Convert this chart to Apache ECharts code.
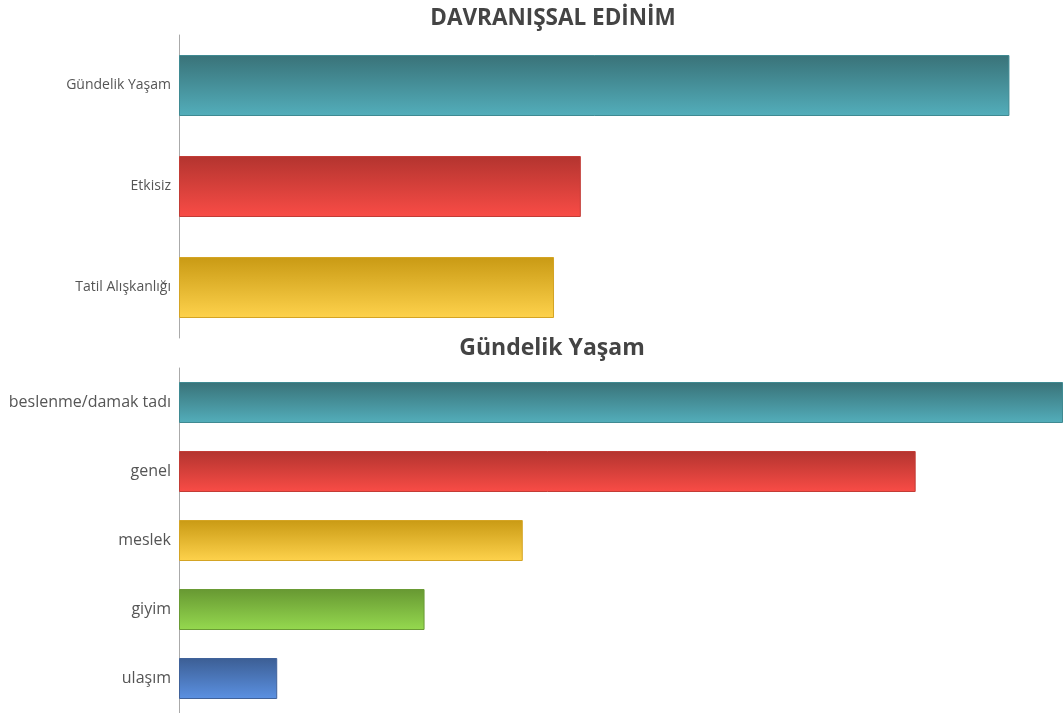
<!DOCTYPE html>
<html><head><meta charset="utf-8">
<script src="https://cdn.jsdelivr.net/npm/echarts@6/dist/echarts.min.js"></script>
<style>html,body{margin:0;padding:0;background:#fff}#c{width:1063px;height:713px}</style>
</head><body><div id="c"></div>
<script>
const topTitle = 'DAVRANIŞSAL EDİNİM';
const topCategories = ['Gündelik Yaşam', 'Etkisiz', 'Tatil Alışkanlığı'];
const topValues = [31, 15, 14];
const bottomTitle = 'Gündelik Yaşam';
const bottomCategories = ['beslenme/damak tadı', 'genel', 'meslek', 'giyim', 'ulaşım'];
const bottomValues = [18, 15, 7, 5, 2];

const palette = [
  ['#397278', '#53aebb', '#3f8a92'],
  ['#b3342f', '#f94c46', '#c23c36'],
  ['#c99a14', '#fed24c', '#d4a424'],
  ['#679832', '#95d94f', '#6a9b35'],
  ['#3c5e94', '#5b91e2', '#40629a']
];
function grad(i){
  const p = palette[i % palette.length];
  return {
    color: new echarts.graphic.LinearGradient(0,0,0,1,[{offset:0,color:p[0]},{offset:1,color:p[1]}]),
    borderColor: p[2], borderWidth: 1
  };
}
const font = '"Open Sans", "Noto Sans", sans-serif';
const chart = echarts.init(document.getElementById('c'));
chart.setOption({
  animation: false,
  title: [
    {text: topTitle, left: 548, textAlign: 'center', top: 2, textStyle:{fontFamily:font, fontSize:22.5, fontWeight:'bold', color:'#444'}},
    {text: bottomTitle, left: 547, textAlign: 'center', top: 332, textStyle:{fontFamily:font, fontSize:23, fontWeight:'bold', color:'#444'}}
  ],
  grid: [
    {left: 179, right: 0, top: 35, height: 303},
    {left: 179, right: 0, top: 368, bottom: 0}
  ],
  xAxis: [
    {gridIndex:0, type:'value', min:0, max:33, show:false},
    {gridIndex:1, type:'value', min:0, max:18, show:false}
  ],
  yAxis: [
    {gridIndex:0, type:'category', data: topCategories, inverse:true,
     axisLine:{lineStyle:{color:'#aaa'}}, axisTick:{show:false},
     axisLabel:{fontFamily:font, fontSize:14, color:'#555', margin:8}},
    {gridIndex:1, type:'category', data: bottomCategories, inverse:true,
     axisLine:{lineStyle:{color:'#aaa'}}, axisTick:{show:false},
     axisLabel:{fontFamily:font, fontSize:16, color:'#555', margin:8}}
  ],
  series: [
    {type:'bar', xAxisIndex:0, yAxisIndex:0, barWidth:61,
     data: topValues.map((v,i)=>({value:v, itemStyle:grad(i)}))},
    {type:'bar', xAxisIndex:1, yAxisIndex:1, barWidth:41,
     data: bottomValues.map((v,i)=>({value:v, itemStyle:grad(i)}))}
  ]
});
</script></body></html>
